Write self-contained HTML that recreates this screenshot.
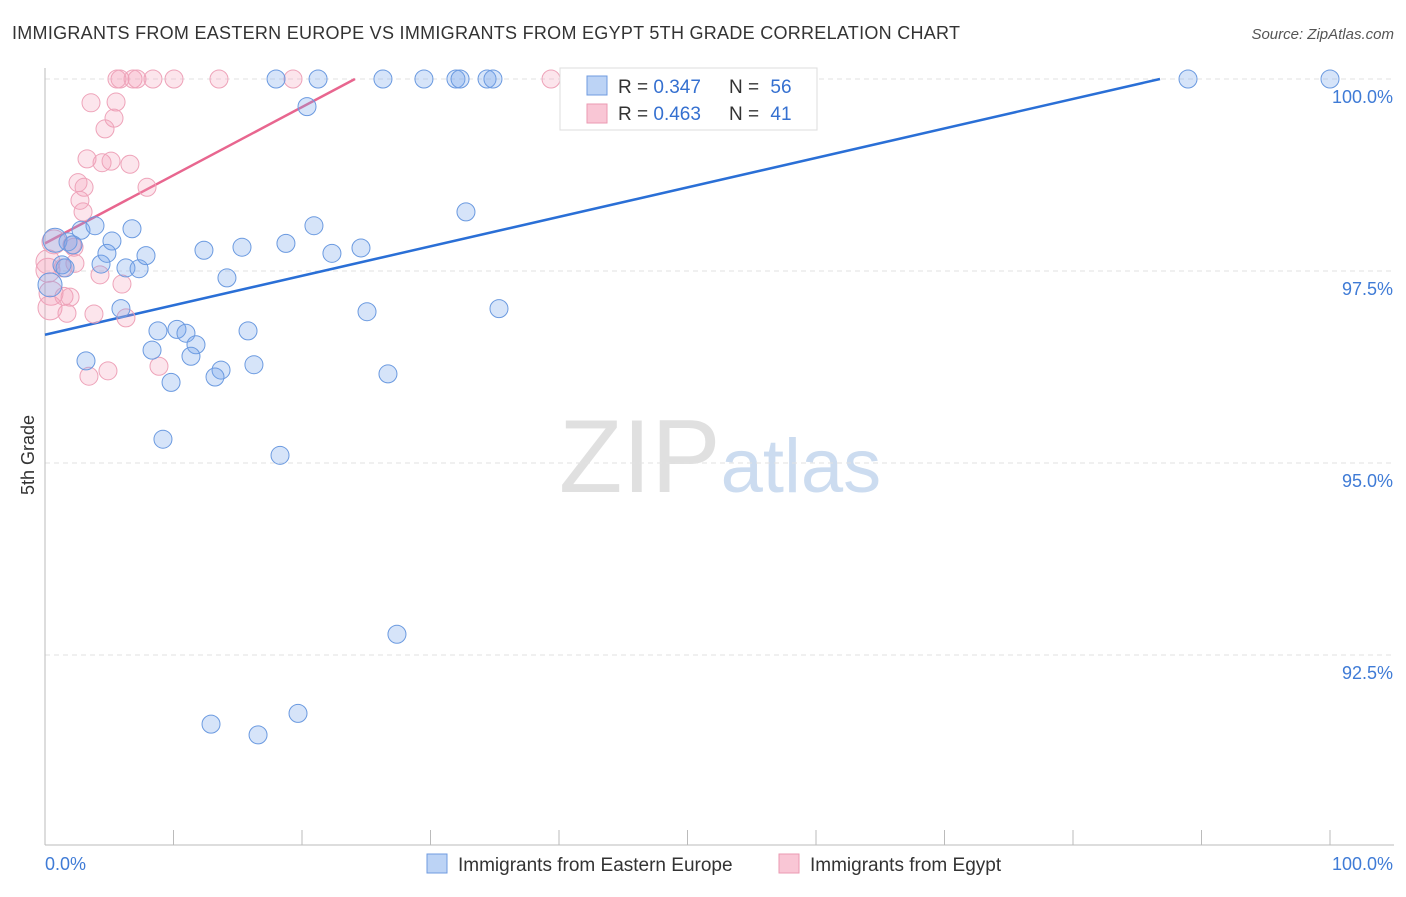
<!DOCTYPE html>
<html><head><meta charset="utf-8"><style>
body{margin:0;background:#fff;font-family:"Liberation Sans",sans-serif;}
svg text{font-family:"Liberation Sans",sans-serif;}
</style></head><body>
<svg id="chart" width="1406" height="892" xmlns="http://www.w3.org/2000/svg">
<text x="12" y="39" font-size="18" fill="#333" textLength="948">IMMIGRANTS FROM EASTERN EUROPE VS IMMIGRANTS FROM EGYPT 5TH GRADE CORRELATION CHART</text>
<text x="1394" y="39" font-size="15" fill="#555" text-anchor="end" font-style="italic">Source: ZipAtlas.com</text>
<text transform="translate(34,455) rotate(-90)" font-size="18" fill="#333" text-anchor="middle">5th Grade</text>
<text x="720" y="492" font-size="104" text-anchor="middle" fill="#e0e0e0" font-family="Liberation Serif">ZIP<tspan fill="#ccdcf0" font-family="Liberation Sans" font-size="76">atlas</tspan></text>
<g id="grid"></g><g id="axes"></g><g id="trend"></g><g id="points"></g>
<g>
<rect x="560" y="68" width="257" height="62" fill="#fff" stroke="#ddd"/>
<rect x="587" y="76" width="20" height="19" fill="#bcd3f5" stroke="#6f9be0"/>
<rect x="587" y="104" width="20" height="19" fill="#f9c6d5" stroke="#eb9ab2"/>
<text x="618" y="93" font-size="19" fill="#333">R = <tspan fill="#3570d0">0.347</tspan></text>
<text x="729" y="93" font-size="19" fill="#333">N = <tspan fill="#3570d0" dx="6">56</tspan></text>
<text x="618" y="120" font-size="19" fill="#333">R = <tspan fill="#3570d0">0.463</tspan></text>
<text x="729" y="120" font-size="19" fill="#333">N = <tspan fill="#3570d0" dx="6">41</tspan></text>
</g>
<g>
<rect x="427" y="854" width="20" height="19" fill="#bcd3f5" stroke="#6f9be0"/>
<text x="458" y="871" font-size="19" fill="#333">Immigrants from Eastern Europe</text>
<rect x="779" y="854" width="20" height="19" fill="#f9c6d5" stroke="#eb9ab2"/>
<text x="810" y="871" font-size="19" fill="#333">Immigrants from Egypt</text>
</g>
</svg>
<script>
const yTicks=[100,97.5,95,92.5];
const yTickLabels=["100.0%","97.5%","95.0%","92.5%"];
const xTickLabels=["0.0%","100.0%"];
const blueX=[17.98,21.25,26.30,29.49,31.98,32.30,34.40,34.86,88.95,100,20.39,32.76,20.93,0.78,1.79,2.80,3.89,5.21,6.77,12.37,15.33,18.75,22.33,24.59,1.32,4.36,4.82,6.30,7.32,7.86,14.16,0.39,25.06,35.33,5.91,8.79,10.27,10.97,11.75,15.80,8.33,11.36,3.19,13.70,16.26,26.69,9.81,13.23,9.18,18.29,27.39,12.92,16.58,19.69,2.18,1.56];
const blueY=[100,100,100,100,100,100,100,100,100,100,99.64,98.27,98.09,97.90,97.88,98.03,98.09,97.89,98.05,97.77,97.81,97.86,97.73,97.80,97.58,97.59,97.73,97.54,97.53,97.70,97.41,97.32,96.97,97.01,97.01,96.72,96.74,96.69,96.54,96.72,96.47,96.39,96.33,96.21,96.28,96.16,96.05,96.12,95.31,95.10,92.77,91.60,91.46,91.74,97.84,97.54];
const pinkX=[5.60,5.84,6.85,7.16,8.40,10.04,13.54,19.30,39.38,3.58,5.53,5.37,4.67,3.27,4.44,5.14,6.61,2.57,3.04,2.72,2.96,7.94,2.26,0.70,2.33,1.40,0.23,4.28,5.99,1.48,1.95,0.47,0.39,1.71,3.81,6.30,8.87,3.42,4.90,2.10,0.23];
const pinkY=[100,100,100,100,100,100,100,100,100,99.69,99.70,99.49,99.35,98.96,98.91,98.93,98.89,98.65,98.59,98.42,98.27,98.59,97.81,97.88,97.60,97.54,97.62,97.45,97.33,97.17,97.16,97.21,97.02,96.95,96.94,96.89,96.26,96.13,96.20,97.84,97.51];
const blueTrend=[[0,96.67],[86.77,100]];
const pinkTrend=[[0,97.86],[24.12,100]];
const NS="http://www.w3.org/2000/svg";
const X=v=>45+v*12.85, Y=v=>79+(100-v)*76.8;
function mk(tag,attrs,parent){const e=document.createElementNS(NS,tag);for(const k in attrs)e.setAttribute(k,attrs[k]);document.getElementById(parent).appendChild(e);return e;}
yTicks.forEach((t,i)=>{
 const g=mk('line',{x1:45,x2:1394,y1:Y(t),y2:Y(t),stroke:'#e2e2e2','stroke-dasharray':'5,4'},'grid');
 
 
 const tx=mk('text',{x:1393,y:Y(t)+24,'font-size':18,fill:'#3f7bd6','text-anchor':'end'},'axes');
 tx.textContent=yTickLabels[i];
 
 
});
const ax=mk('line',{x1:45,x2:45,y1:68,y2:845,stroke:'#bbb'},'axes');


const bx=mk('line',{x1:45,x2:1394,y1:845,y2:845,stroke:'#bbb'},'axes');


for(let i=0;i<=10;i++){const t=mk('line',{x1:X(i*10),x2:X(i*10),y1:830,y2:845,stroke:'#bbb'},'axes');
 
 }
[[0,'start',45],[100,'end',1393]].forEach((d,i)=>{const t=mk('text',{x:d[2],y:870,'font-size':18,fill:'#3f7bd6','text-anchor':d[1]},'axes');t.textContent=xTickLabels[i];
 
 });
function pts(xs,ys,fill,stroke,name){xs.forEach((x,i)=>{const c=mk('circle',{cx:X(x),cy:Y(ys[i]),r:(x<1?12:9),fill:fill,stroke:stroke,'stroke-width':1},'points');
 
 });}
pts(pinkX,pinkY,'rgba(244,160,185,0.28)','#eea3b9','egypt-point');
pts(blueX,blueY,'rgba(120,165,235,0.3)','#6b9ae0','eastern-europe-point');
const l1=mk('line',{x1:X(blueTrend[0][0]),y1:Y(blueTrend[0][1]),x2:X(blueTrend[1][0]),y2:Y(blueTrend[1][1]),stroke:'#2a6fd6','stroke-width':2.5},'trend');


const l2=mk('line',{x1:X(pinkTrend[0][0]),y1:Y(pinkTrend[0][1]),x2:X(pinkTrend[1][0]),y2:Y(pinkTrend[1][1]),stroke:'#e8668f','stroke-width':2.5},'trend');


</script>
</body></html>
